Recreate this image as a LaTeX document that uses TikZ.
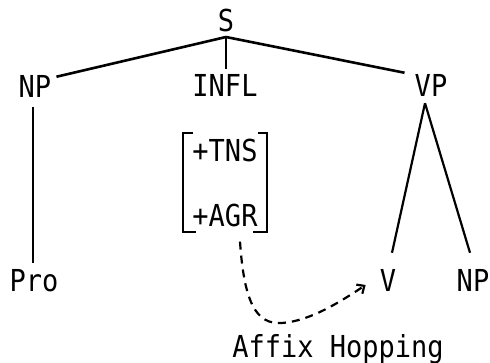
\documentclass[tikz,border=0pt]{standalone}
\usepackage{fontspec}
\usepackage{graphicx}
\usetikzlibrary{arrows.meta}
\setmonofont{DejaVu Sans Mono}
\newcommand{\tall}[1]{\scalebox{1}[1.12]{#1}}
\begin{document}
\begin{tikzpicture}[x=1pt,y=-1pt,
  lbl/.style={inner sep=0pt,anchor=base,font=\ttfamily\fontsize{27}{32}\selectfont},
  edge/.style={line width=2.6pt},
  thin/.style={line width=2.2pt}]
\useasboundingbox (0,0) rectangle (490,363);
\node[lbl] (S) at (226,32) {\tall{S}};
\node[lbl] (NP) at (35,98) {\tall{NP}};
\node[lbl] (INFL) at (225,97) {\tall{INFL}};
\node[lbl] (VP) at (431,97) {\tall{VP}};
\node[lbl] (Pro) at (34,292) {\tall{Pro}};
\node[lbl] (V) at (388,292) {\tall{V}};
\node[lbl] (NPb) at (473,292) {\tall{NP}};
\node[lbl] (TNS) at (225,162) {\tall{+TNS}};
\node[lbl] (AGR) at (225,227) {\tall{+AGR}};
\node[lbl] (hop) at (338,357) {\tall{Affix Hopping}};
\coordinate (Sj) at ([yshift=-5pt]S.base);
\draw[edge] (Sj) -- ([xshift=5pt,yshift=-1pt]NP.north east);
\draw[edge] (Sj) -- ([xshift=-10pt,yshift=2pt]VP.north west);
\draw[thin] (Sj) -- ([yshift=6pt]Sj |- INFL.north);
\draw[thin] ([xshift=-2pt,yshift=-9pt]NP.south) -- ([xshift=-1pt,yshift=7pt]Pro.north);
\coordinate (Vt) at ([xshift=-6pt,yshift=-6pt]VP.south);
\draw[thin] (Vt) -- ([xshift=4pt,yshift=17pt]V.north);
\draw[thin] (Vt) -- ([xshift=-3pt,yshift=17pt]NPb.north);
% feature brackets
\draw[thin] (193,133) -- (183,133) -- (183,232) -- (196,232);
\draw[thin] (258,133) -- (267,133) -- (267,232) -- (253,232);
% affix hopping
\draw[thin,dash pattern=on 8pt off 6pt,-{Straight Barb[length=6pt,width=11pt]}]
  ([xshift=15pt,yshift=-14pt]AGR.south) .. controls (244,300) and (255,325) .. (282,323)
  .. controls (310,321) and (340,302) .. ([xshift=-14pt,yshift=-4pt]V.west);
\end{tikzpicture}
\end{document}
